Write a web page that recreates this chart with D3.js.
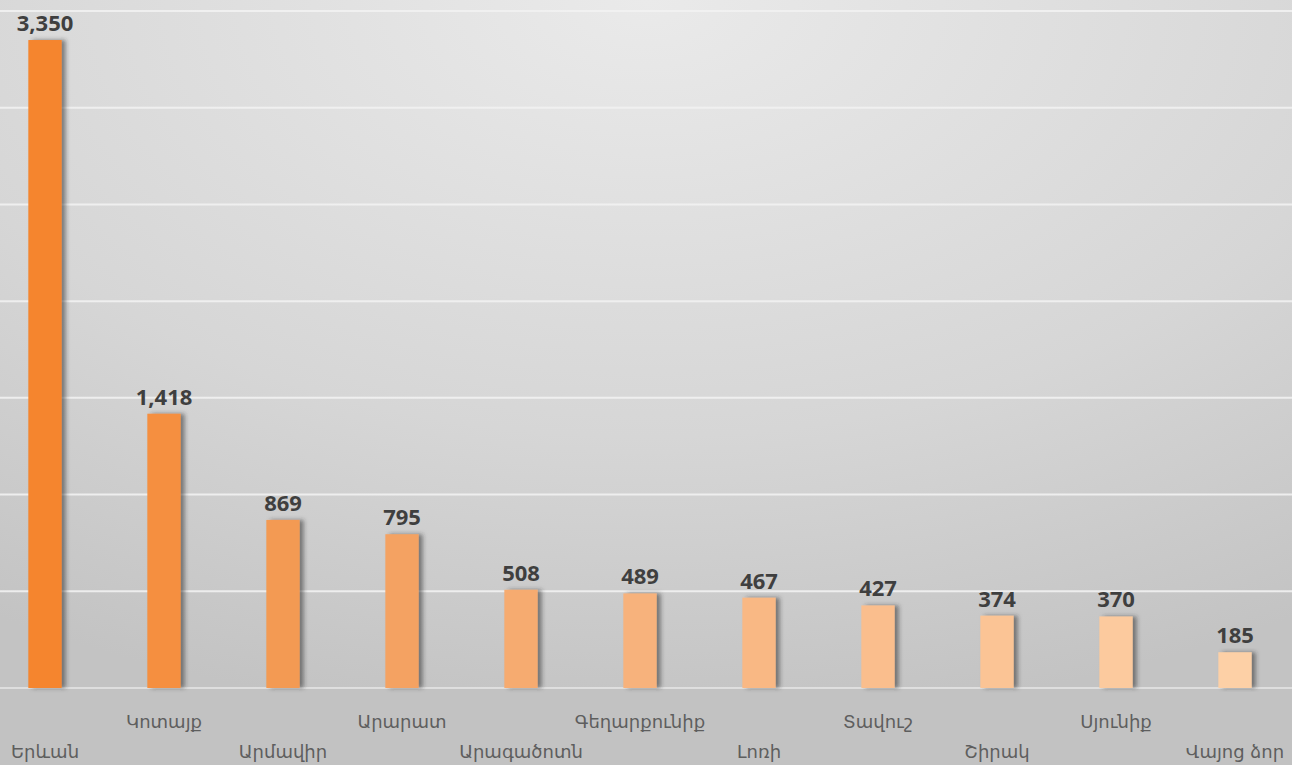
<!DOCTYPE html>
<html><head><meta charset="utf-8">
<script src="https://cdn.jsdelivr.net/npm/d3@7"></script>
<style>html,body{margin:0;padding:0;background:#c8c8c8;overflow:hidden}svg{display:block}</style>
</head><body>
<svg id="c" width="1292" height="765"></svg>
<script>
const categories = ["Երևան","Կոտայք","Արմավիր","Արարատ","Արագածոտն","Գեղարքունիք","Լոռի","Տավուշ","Շիրակ","Սյունիք","Վայոց ձոր"];
const values = [3350,1418,869,795,508,489,467,427,374,370,185];
const barColors = ["#f5852e","#f58f3f","#f39a52","#f4a262","#f6ab70","#f7b27b","#f9b884","#fabe8d","#fbc495","#fcca9e","#fdd0a6"];
const yTicks = [0,500,1000,1500,2000,2500,3000,3500];

const W = 1292, H = 765;
const svg = d3.select("#c");
const defs = svg.append("defs");
const rg = defs.append("radialGradient").attr("id","bg").attr("cx","50%").attr("cy","0%").attr("r","95%").attr("fx","50%").attr("fy","0%");
rg.append("stop").attr("offset","0%").attr("stop-color","#eaeaea");
rg.append("stop").attr("offset","60%").attr("stop-color","#d6d6d6");
rg.append("stop").attr("offset","100%").attr("stop-color","#c3c3c3");
const f = defs.append("filter").attr("id","sh").attr("x","-50%").attr("y","-10%").attr("width","200%").attr("height","120%");
f.append("feDropShadow").attr("dx",4).attr("dy",0).attr("stdDeviation",2).attr("flood-color","#333").attr("flood-opacity",0.55);

svg.append("rect").attr("width",W).attr("height",H).attr("fill","url(#bg)");

const x = d3.scaleBand().domain(categories).range([-14.5, 1294.5]).paddingInner(0.72).paddingOuter(0.36);
const y = d3.scaleLinear().domain([0,3500]).range([688, 11]);

// area below baseline
svg.append("rect").attr("x",0).attr("y",y(0)).attr("width",W).attr("height",H-y(0)).attr("fill","#c2c2c2");

// gridlines
svg.append("g").selectAll("line").data(yTicks).join("line")
  .attr("x1",0).attr("x2",W).attr("y1",d=>y(d)).attr("y2",d=>y(d))
  .attr("stroke",d=>d===0?"#e2e2e2":"#f2f2f2").attr("stroke-width",2).attr("opacity",0.9);

// bars
svg.append("g").selectAll("rect").data(values).join("rect")
  .attr("x",(d,i)=>x(categories[i])).attr("width",x.bandwidth())
  .attr("y",d=>y(d)).attr("height",d=>y(0)-y(d))
  .attr("fill",(d,i)=>barColors[i]).attr("filter","url(#sh)");

// value labels
svg.append("g").selectAll("text").data(values).join("text")
  .attr("x",(d,i)=>x(categories[i])+x.bandwidth()/2).attr("y",d=>y(d)-9)
  .attr("text-anchor","middle").attr("font-family","'Open Sans','Liberation Sans',sans-serif")
  .attr("font-weight","bold").attr("font-size",22).attr("fill","#3f3f3f")
  .text(d=>d3.format(",")(d));

// category labels (staggered)
svg.append("g").selectAll("text").data(categories).join("text")
  .attr("x",d=>x(d)+x.bandwidth()/2).attr("y",(d,i)=>i%2===0?758:728)
  .attr("text-anchor","middle").attr("font-family","'DejaVu Sans','Noto Sans',sans-serif")
  .attr("font-size",18).attr("fill","#5e5e5e")
  .text(d=>d);
</script>
</body></html>
